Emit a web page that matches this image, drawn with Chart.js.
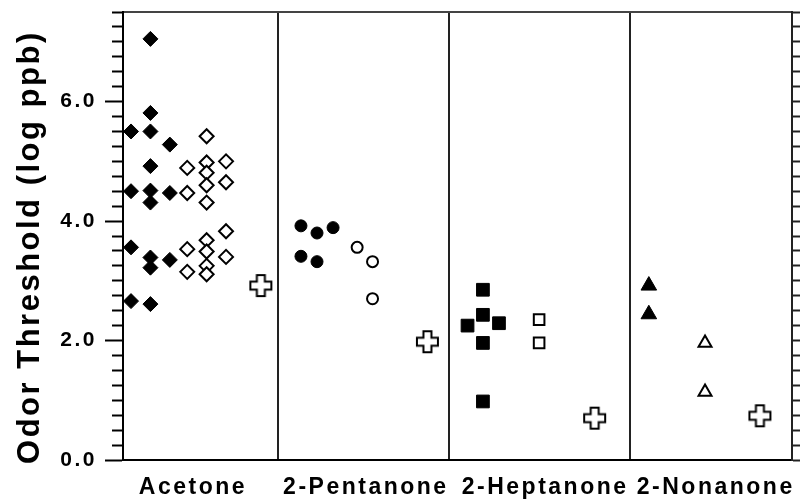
<!DOCTYPE html>
<html>
<head>
<meta charset="utf-8">
<script src="https://cdn.jsdelivr.net/npm/chart.js@4/dist/chart.umd.min.js"></script>
<style>
  html, body { margin: 0; padding: 0; background: #fff; }
  canvas { display: block; }
</style>
</head>
<body>
<canvas id="myChart" width="804" height="504"></canvas>
<script>
// x positions are in panel units, 0..100 across the plot
const categories = ['Acetone', '2-Pentanone', '2-Heptanone', '2-Nonanone']
const categoryPos = [10.45, 36.3, 63.1, 88.6]
const dividers = [23.2, 48.7, 75.8]

const yTickValues = [0, 2, 4, 6]
const yTickLabels = ['0.0', '2.0', '4.0', '6.0']

const acetoneFilledX = [1.2, 1.2, 1.2, 1.2, 4.1, 4.1, 4.1, 4.1, 4.1, 4.1, 4.1, 4.1, 4.1, 7.0, 7.0, 7.0]
const acetoneFilledY = [5.50, 4.50, 3.56, 2.66, 7.05, 5.81, 5.50, 4.92, 4.51, 4.31, 3.39, 3.22, 2.61, 5.28, 4.47, 3.35]
const acetoneOpenX = [9.6, 9.6, 9.6, 9.6, 12.5, 12.5, 12.5, 12.5, 12.5, 12.5, 12.5, 12.5, 12.5, 15.4, 15.4, 15.4, 15.4]
const acetoneOpenY = [4.89, 4.47, 3.53, 3.15, 5.42, 4.98, 4.81, 4.60, 4.31, 3.68, 3.49, 3.25, 3.11, 5.00, 4.65, 3.83, 3.40]

const pentanoneFilledX = [26.6, 29.0, 31.4, 26.6, 29.0]
const pentanoneFilledY = [3.92, 3.80, 3.89, 3.41, 3.32]
const pentanoneOpenX = [35.0, 37.3, 37.3]
const pentanoneOpenY = [3.56, 3.32, 2.70]

const heptanoneFilledX = [53.8, 53.8, 51.5, 56.2, 53.8, 53.8]
const heptanoneFilledY = [2.85, 2.43, 2.25, 2.29, 1.96, 0.98]
const heptanoneOpenX = [62.2, 62.2]
const heptanoneOpenY = [2.35, 1.96]

const nonanoneFilledX = [78.6, 78.6]
const nonanoneFilledY = [2.92, 2.44]
const nonanoneOpenX = [87.0, 87.0]
const nonanoneOpenY = [1.96, 1.14]

const crossX = [20.6, 45.5, 70.5, 95.2]
const crossY = [2.92, 1.98, 0.70, 0.74]

const FONT = "'Liberation Sans', Arial, Helvetica, sans-serif"

function pts(xs, ys) {
    return xs.map((x, i) => ({ x: x, y: ys[i] }))
}

function plusIcon(size, arm) {
    const c = document.createElement('canvas')
    c.width = c.height = size + 4
    const g = c.getContext('2d')
    const m = (size + 4) / 2, h = size / 2, a = arm / 2
    g.beginPath()
    g.moveTo(m - a, m - h); g.lineTo(m + a, m - h); g.lineTo(m + a, m - a)
    g.lineTo(m + h, m - a); g.lineTo(m + h, m + a); g.lineTo(m + a, m + a)
    g.lineTo(m + a, m + h); g.lineTo(m - a, m + h); g.lineTo(m - a, m + a)
    g.lineTo(m - h, m + a); g.lineTo(m - h, m - a); g.lineTo(m - a, m - a)
    g.closePath()
    g.fillStyle = '#fff'
    g.fill()
    g.lineWidth = 2
    g.strokeStyle = '#000'
    g.stroke()
    return c
}

function filled(data, style, r) {
    return { data: data, pointStyle: style, pointRadius: r, backgroundColor: '#000', borderColor: '#000', borderWidth: 1 }
}
function open(data, style, r) {
    return { data: data, pointStyle: style, pointRadius: r, backgroundColor: '#fff', borderColor: '#000', borderWidth: 2 }
}

const isMajor = v => yTickValues.includes(v)

// fixed axis sizes so the plot area sits where it does in the figure
function fixSize(w, h) {
    return s => {
        if (w !== null) s.width = w
        if (h !== null) s.height = h
        s.paddingTop = 0
        s.paddingBottom = 0
        s.paddingLeft = 0
        s.paddingRight = 0
    }
}

const spacing = {
    id: 'spacing',
    beforeDraw(chart) { chart.ctx.letterSpacing = '2.5px' }
}

const ctx = document.getElementById('myChart').getContext('2d')

const myChart = new Chart(ctx, {
    type: 'scatter',
    data: {
        datasets: [
            filled(pts(acetoneFilledX, acetoneFilledY), 'rectRot', 7.5),
            open(pts(acetoneOpenX, acetoneOpenY), 'rectRot', 7),
            filled(pts(pentanoneFilledX, pentanoneFilledY), 'circle', 6),
            open(pts(pentanoneOpenX, pentanoneOpenY), 'circle', 5.5),
            filled(pts(heptanoneFilledX, heptanoneFilledY), 'rect', 9),
            open(pts(heptanoneOpenX, heptanoneOpenY), 'rect', 7.5),
            filled(pts(nonanoneFilledX, nonanoneFilledY), 'triangle', 9),
            open(pts(nonanoneOpenX, nonanoneOpenY), 'triangle', 7.5),
            { data: pts(crossX, crossY), pointStyle: plusIcon(21, 8), pointRadius: 11 }
        ]
    },
    options: {
        responsive: false,
        animation: false,
        layout: { padding: 0 },
        plugins: {
            legend: { display: false },
            tooltip: { enabled: false }
        },
        scales: {
            x: {
                type: 'linear',
                position: 'bottom',
                min: 0,
                max: 100,
                afterBuildTicks: s => { s.ticks = categoryPos.map(v => ({ value: v })) },
                afterFit: fixSize(null, 44),
                ticks: {
                    autoSkip: false,
                    maxRotation: 0,
                    padding: 14,
                    color: '#000',
                    font: { family: FONT, size: 23, weight: 'bold' },
                    callback: (v, i) => categories[i]
                },
                grid: { drawOnChartArea: false, drawTicks: false },
                border: { display: true, color: '#000', width: 2 }
            },
            xt: {
                type: 'linear',
                position: 'top',
                min: 0,
                max: 100,
                afterBuildTicks: s => { s.ticks = dividers.map(v => ({ value: v })) },
                afterFit: fixSize(null, 11),
                ticks: { display: false },
                grid: { drawOnChartArea: true, drawTicks: false, color: '#222', lineWidth: 2 },
                border: { display: true, color: '#444', width: 2 }
            },
            y: {
                type: 'linear',
                position: 'left',
                min: 0,
                max: 7.5,
                afterFit: fixSize(123, null),
                ticks: {
                    stepSize: 0.25,
                    autoSkip: false,
                    padding: 8,
                    color: '#000',
                    font: { family: FONT, size: 21, weight: 'bold' },
                    callback: v => isMajor(v) ? yTickLabels[yTickValues.indexOf(v)] : ''
                },
                grid: {
                    drawOnChartArea: false,
                    tickLength: 18,
                    tickWidth: 2,
                    tickColor: '#000',
                    tickBorderDash: c => (c.tick && !isMajor(c.tick.value)) ? [11, 7] : [],
                    tickBorderDashOffset: c => (c.tick && !isMajor(c.tick.value)) ? 11 : 0
                },
                border: { display: true, color: '#000', width: 2 },
                title: {
                    display: true,
                    text: 'Odor Threshold (log ppb)  ',
                    color: '#000',
                    font: { family: FONT, size: 31, weight: 'bold' },
                    padding: { top: 12, bottom: 0 }
                }
            },
            y2: {
                type: 'linear',
                position: 'right',
                min: 0,
                max: 7.5,
                afterFit: fixSize(8, null),
                ticks: { stepSize: 0.25, display: false },
                grid: { drawOnChartArea: false, tickLength: 8, tickWidth: 2, tickColor: '#222' },
                border: { display: true, color: '#222', width: 2 }
            }
        }
    },
    plugins: [spacing]
})
</script>
</body>
</html>
